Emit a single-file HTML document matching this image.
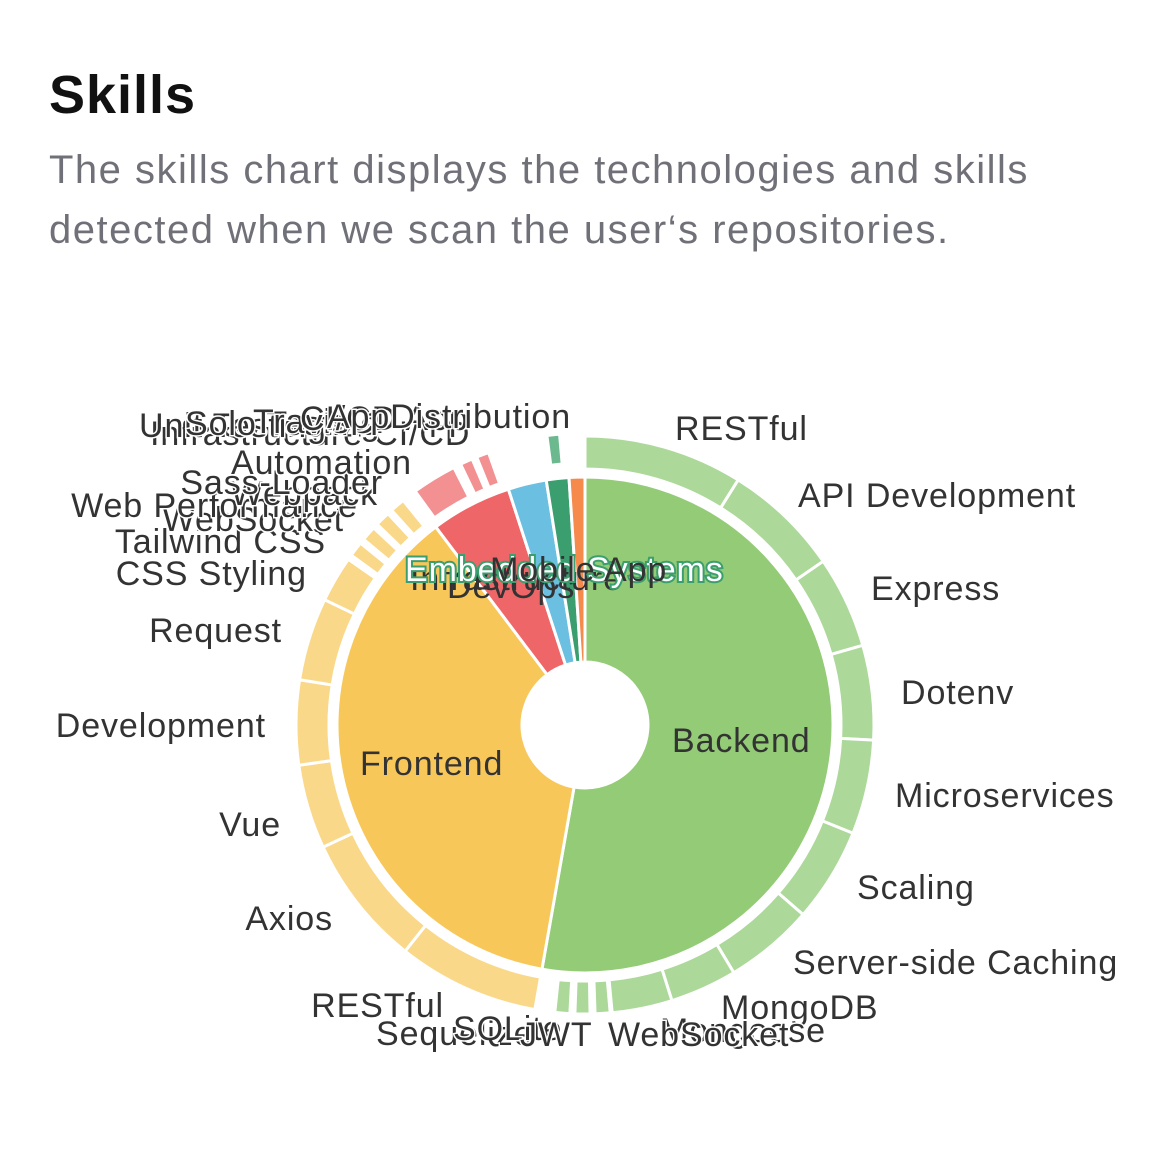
<!DOCTYPE html>
<html><head><meta charset="utf-8"><style>
html,body{margin:0;padding:0;background:#fff;width:1170px;height:1149px;overflow:hidden}
h1{position:absolute;left:49px;top:64px;margin:0;font:bold 54px "Liberation Sans",sans-serif;letter-spacing:1px;color:#111}
p{position:absolute;left:49px;top:140px;margin:0;font:40px/60px "Liberation Sans",sans-serif;letter-spacing:1.5px;color:#707078;width:1120px}
svg{position:absolute;left:0;top:0}
text{font-family:"Liberation Sans",sans-serif;font-size:34px;letter-spacing:0.9px;fill:#333;paint-order:stroke;stroke:#fff;stroke-width:3px}
</style></head><body>
<h1>Skills</h1>
<p>The skills chart displays the technologies and skills<br>detected when we scan the user‘s repositories.</p>
<svg width="1170" height="1149" id="s">
<g id="arcs"></g>
<g id="t">
<text x="675" y="440">RESTful</text>
<text x="798" y="507">API Development</text>
<text x="871" y="600">Express</text>
<text x="901" y="704">Dotenv</text>
<text x="895" y="807">Microservices</text>
<text x="857" y="899">Scaling</text>
<text x="793" y="974">Server-side Caching</text>
<text x="721" y="1019">MongoDB</text>
<text x="660" y="1042">Mongoose</text>
<text x="608" y="1046">WebSocket</text>
<text x="307" y="585" text-anchor="end">CSS Styling</text>
<text x="326" y="553" text-anchor="end">Tailwind CSS</text>
<text x="344" y="531" text-anchor="end">WebSocket</text>
<text x="358" y="517" text-anchor="end">Web Performance</text>
<text x="378" y="505" text-anchor="end">Webpack</text>
<text x="383" y="494" text-anchor="end">Sass-Loader</text>
<text x="412" y="474" text-anchor="end">Automation</text>
<text x="150" y="445">Infrastructure CI/CD</text>
<text x="139" y="437">Unit Testing</text>
<text x="185" y="435">Solo Testing</text>
<text x="253" y="433">TravisCI</text>
<text x="300" y="430">CI/CD App</text>
<text x="571" y="428" text-anchor="end">AppDistribution</text>
<text x="282" y="642" text-anchor="end">Request</text>
<text x="266" y="737" text-anchor="end">Development</text>
<text x="281" y="836" text-anchor="end">Vue</text>
<text x="333" y="930" text-anchor="end">Axios</text>
<text x="444" y="1017" text-anchor="end">RESTful</text>
<text x="376" y="1045">Sequelize</text>
<text x="453" y="1040">SQLite</text>
<text x="520" y="1046">JWT</text>
<text x="672" y="752" style="stroke:none">Backend</text>
<text x="360" y="775" style="stroke:none">Frontend</text>
<text x="410" y="590" style="stroke:none">Infrastructure</text>
<text x="447" y="598" style="stroke:none">DevOps</text>
<text x="405" y="581" style="fill:#fff;stroke:#3a9e6e;stroke-width:4px">Embedded Systems</text>
<text x="490" y="581" style="stroke:none">Mobile App</text>
</g>
</svg>
<script>
var cx=585,cy=725;
function pt(r,a){a=a*Math.PI/180;return [cx+r*Math.sin(a),cy-r*Math.cos(a)];}
function arc(r0,r1,a0,a1,c){var L=(a1-a0)>180?1:0;var p=pt(r1,a0),q=pt(r1,a1),u=pt(r0,a1),v=pt(r0,a0);
return '<path d="M'+p+' A'+r1+','+r1+' 0 '+L+' 1 '+q+' L'+u+' A'+r0+','+r0+' 0 '+L+' 0 '+v+'Z" fill="'+c+'" stroke="#fff" stroke-width="3"/>';}
var h='';
var inner=[[0,190,'#93cb76'],[190,323,'#f8c75a'],[323,342,'#ef6668'],[342,351,'#6bbfe0'],[351,356.3,'#3a9e6e'],[356.3,360,'#f58a4c']];
inner.forEach(function(s){h+=arc(63,248,s[0],s[1],s[2]);});
var G='#acd899',Y='#fad88a',R='#f29092';
var outer=[[0,32,G],[32,55.5,G],[55.5,74,G],[74,93,G],[93,112,G],[112,131,G],[131,149,G],[149,162.5,G],[162.5,174.6,G],[175,178,G],[179,182,G],[183,186,G],
[190,218.5,Y],[218.5,245,Y],[245,262,Y],[262,279,Y],[279,295.7,Y],[295.7,305,Y],[306,309,Y],[310,313,Y],[314,317,Y],[318,321,Y],
[324,333,R],[334.5,337,R],[338,340.5,R]];
outer.forEach(function(s){h+=arc(256,289,s[0],s[1],s[2]);});
h+=arc(262,292,352.5,355,'#6cb990');
document.getElementById('arcs').innerHTML=h;
</script>
</body></html>
